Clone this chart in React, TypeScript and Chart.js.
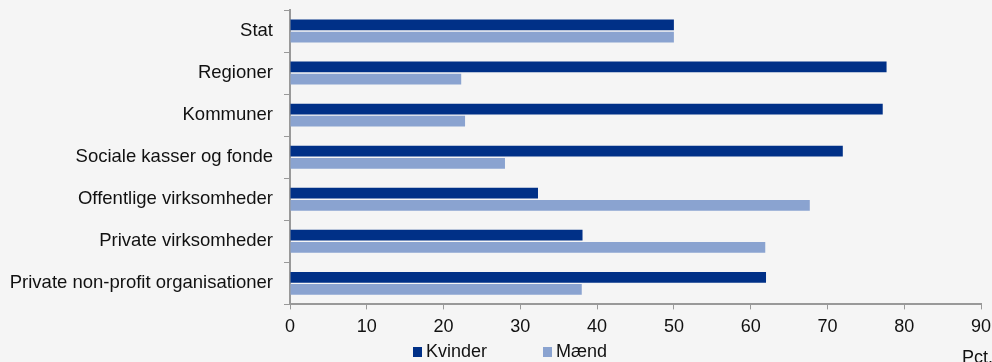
import React, { useEffect, useRef } from "react";
import { Chart, registerables } from "chart.js";

Chart.register(...registerables);

const categories = [
  "Stat",
  "Regioner",
  "Kommuner",
  "Sociale kasser og fonde",
  "Offentlige virksomheder",
  "Private virksomheder",
  "Private non-profit organisationer",
];
const kvinder = [50, 77.7, 77.2, 72.0, 32.3, 38.1, 62.0];
const maend = [50, 22.3, 22.8, 28.0, 67.7, 61.9, 38.0];
const xTicks = [0, 10, 20, 30, 40, 50, 60, 70, 80, 90];
const unitLabel = "Pct.";

const FONT = "'Liberation Sans', Arial, sans-serif";

export default function App() {
  const ref = useRef<HTMLCanvasElement | null>(null);
  useEffect(() => {
    document.body.style.margin = "0";
    document.body.style.background = "#f5f5f5";
    const extrasPlugin = {
      id: "extras",
      afterDraw(chart: any) {
        const ctx = chart.ctx;
        const xs = chart.scales.x;
        ctx.save();
        ctx.font = `18px ${FONT}`;
        ctx.fillStyle = "#111";
        ctx.textAlign = "left";
        ctx.textBaseline = "alphabetic";
        ctx.fillText(unitLabel, xs.right - 19, chart.height + 1);
        // legend
        const starts = [413, 543];
        chart.data.datasets.forEach((ds: any, i: number) => {
          const x0 = starts[i];
          ctx.fillStyle = ds.backgroundColor;
          ctx.fillRect(x0, 347, 9, 10);
          ctx.fillStyle = "#111";
          ctx.textBaseline = "middle";
          ctx.fillText(ds.label, x0 + 13, 352.5);
        });
        ctx.restore();
      },
    };
    const chart = new Chart(ref.current!, {
      type: "bar",
      data: {
        labels: categories,
        datasets: [
          {
            label: "Kvinder",
            data: kvinder,
            backgroundColor: "#003087",
            borderWidth: 0,
            categoryPercentage: 0.58,
            barPercentage: 0.88,
          },
          {
            label: "Mænd",
            data: maend,
            backgroundColor: "#8aa3d0",
            borderWidth: 0,
            categoryPercentage: 0.58,
            barPercentage: 0.88,
          },
        ],
      },
      options: {
        indexAxis: "y",
        animation: false,
        responsive: false,
        maintainAspectRatio: false,
        layout: { padding: { top: 10, right: 0, left: 0, bottom: 17 } },
        plugins: {
          tooltip: { enabled: false },
          legend: { display: false },
        },
        scales: {
          x: {
            min: 0,
            max: 90,
            afterBuildTicks(scale: any) {
              scale.ticks = xTicks.map((v) => ({ value: v }));
            },
            afterFit(scale: any) {
              scale.paddingRight = 11;
              scale.paddingLeft = 0;
            },
            grid: {
              display: true,
              drawOnChartArea: false,
              drawTicks: true,
              tickLength: 5,
              color: "#999",
            },
            border: { display: true, color: "#999", width: 2 },
            ticks: {
              font: { family: FONT, size: 18 },
              color: "#111",
              padding: 7,
            },
          },
          y: {
            afterFit(scale: any) {
              scale.width = 290;
              scale.paddingTop = 0;
              scale.paddingBottom = 0;
            },
            grid: {
              display: true,
              drawOnChartArea: false,
              drawTicks: true,
              tickLength: 6,
              offset: true,
              color: "#999",
            },
            border: { display: true, color: "#999", width: 2 },
            ticks: {
              font: { family: FONT, size: 18.5 },
              color: "#111",
              padding: 11,
            },
          },
        },
      },
      plugins: [extrasPlugin],
    } as any);
    return () => chart.destroy();
  }, []);
  return (
    <div style={{ width: 992, height: 362, background: "#f5f5f5" }}>
      <canvas ref={ref} width={992} height={362} style={{ display: "block" }} />
    </div>
  );
}
